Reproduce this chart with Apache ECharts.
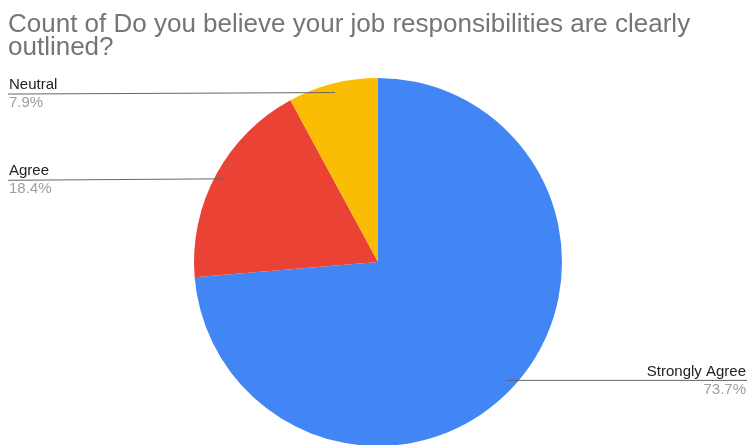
<!DOCTYPE html>
<html>
<head>
<meta charset="utf-8">
<script src="https://cdn.jsdelivr.net/npm/echarts@6/dist/echarts.min.js"></script>
<style>
  html, body { margin: 0; padding: 0; background: #fff; }
  #chart { width: 748px; height: 445px; }
</style>
</head>
<body>
<div id="chart"></div>
<script>
// Survey answers and their response counts
const categories = ['Strongly Agree', 'Agree', 'Neutral'];
const counts = [28, 7, 3];
const colors = ['#4285F4', '#EA4335', '#FBBC04'];

const W = 748;
const CENTER = [378, 262];
const RADIUS = 184;
const FONT = 'Liberation Sans, Arial, sans-serif';
const total = counts.reduce((a, b) => a + b, 0);

const pieData = categories.map((c, i) => ({ name: c, value: counts[i], itemStyle: { color: colors[i] } }));

const chart = echarts.init(document.getElementById('chart'), null, { renderer: 'canvas' });

chart.setOption({
  backgroundColor: '#ffffff',
  animation: false,
  title: {
    text: 'Count of Do you believe your job responsibilities are clearly\noutlined?',
    left: 3,
    top: 8,
    textStyle: {
      fontFamily: FONT,
      fontSize: 26,
      fontWeight: 'normal',
      color: '#757575',
      lineHeight: 23
    }
  },
  series: [
    {
      // the coloured slices
      type: 'pie',
      z: 2,
      center: CENTER,
      radius: RADIUS,
      startAngle: 90,
      clockwise: true,
      data: pieData,
      itemStyle: { borderWidth: 0 },
      label: { show: false },
      labelLine: { show: false }
    },
    {
      // transparent copy on top that carries the callout labels,
      // so the leader lines are drawn over the slices
      type: 'pie',
      z: 3,
      silent: true,
      center: CENTER,
      radius: RADIUS,
      startAngle: 90,
      clockwise: true,
      data: pieData.map(d => ({ name: d.name, value: d.value })),
      itemStyle: { color: 'rgba(0,0,0,0)', borderWidth: 0 },
      label: {
        show: true,
        position: 'outside',
        formatter: p => '{n|' + p.name + '}\n{p|' + (p.value / total * 100).toFixed(1) + '%}',
        rich: {
          n: { fontFamily: FONT, fontSize: 15, color: '#222222', lineHeight: 18 },
          p: { fontFamily: FONT, fontSize: 15, color: '#9e9e9e', lineHeight: 18 }
        }
      },
      labelLine: {
        show: true,
        lineStyle: { color: '#666666', width: 1 }
      },
      labelLayout: function (params) {
        const pts = params.labelLinePoints;
        if (!pts) return {};
        const edge = pts[0];
        // anchor point sits slightly inside the slice
        const ax = CENTER[0] + (edge[0] - CENTER[0]) * 0.95;
        const ay = CENTER[1] + (edge[1] - CENTER[1]) * 0.95;
        const left = ax < CENTER[0];
        const endX = left ? 8 : W - 1;
        const endY = ay + (left ? 1.5 : 0);
        return {
          x: left ? 9 : W - 2,
          y: endY,
          align: left ? 'left' : 'right',
          verticalAlign: 'middle',
          labelLinePoints: [[ax, ay], [endX, endY], [endX, endY]]
        };
      }
    }
  ]
});
</script>
</body>
</html>
